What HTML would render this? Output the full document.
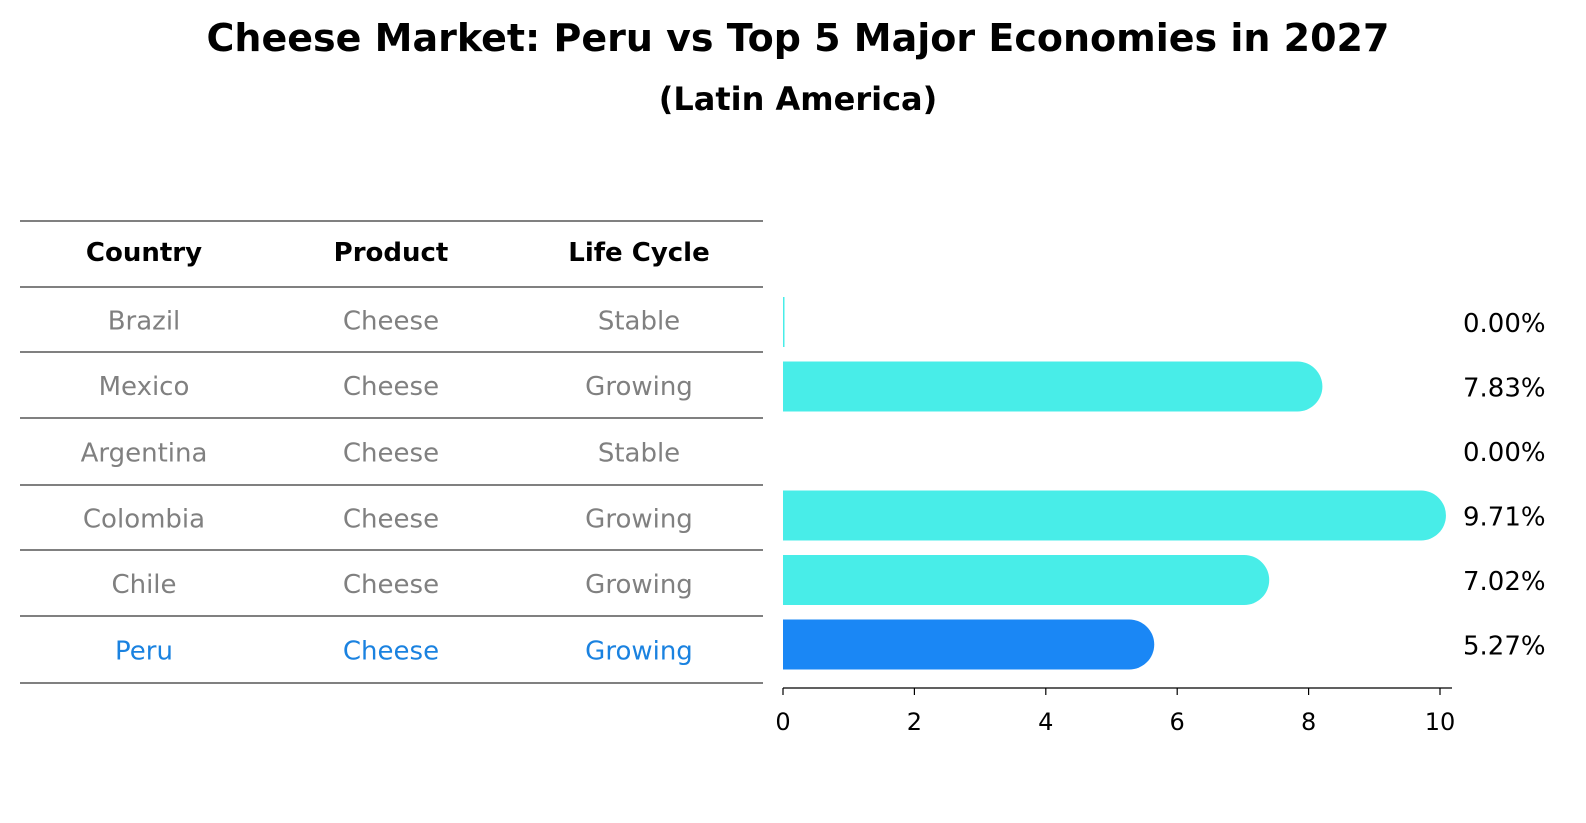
<!DOCTYPE html>
<html><head><meta charset="utf-8"><style>
html,body{margin:0;padding:0;background:#fff;overflow:hidden;width:1586px;height:823px}
svg{display:block}
</style></head><body>
<svg width="1586" height="823" xmlns="http://www.w3.org/2000/svg" font-family="'DejaVu Sans', 'Liberation Sans', sans-serif">
<text x="798" y="51" text-anchor="middle" font-size="38" font-weight="bold">Cheese Market: Peru vs Top 5 Major Economies in 2027</text>
<text x="798" y="110" text-anchor="middle" font-size="32" font-weight="bold">(Latin America)</text>
<g id="table"></g>
<g id="bars"></g>
</svg>
<script>
const countries=["Brazil","Mexico","Argentina","Colombia","Chile","Peru"];
const products=["Cheese","Cheese","Cheese","Cheese","Cheese","Cheese"];
const lifeCycles=["Stable","Growing","Stable","Growing","Growing","Growing"];
const growthValues=[0.00,7.83,0.00,9.71,7.02,5.27];
const tickLabels=[0,2,4,6,8,10];
const NS="http://www.w3.org/2000/svg";
function mk(tag,attrs,parent){const e=document.createElementNS(NS,tag);for(const k in attrs)e.setAttribute(k,attrs[k]);parent.appendChild(e);return e;}
const table=document.getElementById('table');
const lines=[221,287,352,418,485,550,616,683];
lines.forEach((y)=>{const l=mk('line',{x1:20,x2:763,y1:y,y2:y,stroke:'#000','stroke-width':1},table);

});
const colX=[144,391,639];
["Country","Product","Life Cycle"].forEach((h,i)=>{const t=mk('text',{x:colX[i],y:261,'text-anchor':'middle','font-size':26,'font-weight':'bold'},table);t.textContent=h;

});
const rowY=r=>(lines[r+1]+lines[r+2])/2+10;
countries.forEach((c,r)=>{const col=c==="Peru"?"#1a82e0":"#808080";
[c,products[r],lifeCycles[r]].forEach((v,i)=>{const t=mk('text',{x:colX[i],y:rowY(r),'text-anchor':'middle','font-size':26,fill:col},table);t.textContent=v;

});});
const bars=document.getElementById('bars');
const x0=783,x10=1440,xs=v=>x0+(x10-x0)*v/10;
const barCenter=r=>322+r*64.5;
const bh=50;
growthValues.forEach((v,r)=>{const cy=barCenter(r);const col=countries[r]==="Peru"?"#1a87f5":"#48ede8";
if(v>0){
const p=mk('path',{d:`M${x0},${cy-bh/2} H${xs(v)} A${bh/2},${bh/2} 0 0 1 ${xs(v)},${cy+bh/2} H${x0} Z`,fill:col},bars);

}
else if(r===0){const p=mk('rect',{x:x0,y:cy-bh/2,width:1.5,height:bh,fill:col},bars);

}
const t=mk('text',{x:1463,y:cy+10,'font-size':26},bars);t.textContent=v.toFixed(2)+'%';

});
const ax=mk('line',{x1:x0,x2:1452,y1:688,y2:688,stroke:'#000','stroke-width':1.2},bars);


tickLabels.forEach(v=>{const tk=mk('line',{x1:xs(v),x2:xs(v),y1:688,y2:695,stroke:'#000','stroke-width':1.2},bars);


const t=mk('text',{x:xs(v),y:730,'text-anchor':'middle','font-size':24},bars);t.textContent=v;

});
</script>
</body></html>
